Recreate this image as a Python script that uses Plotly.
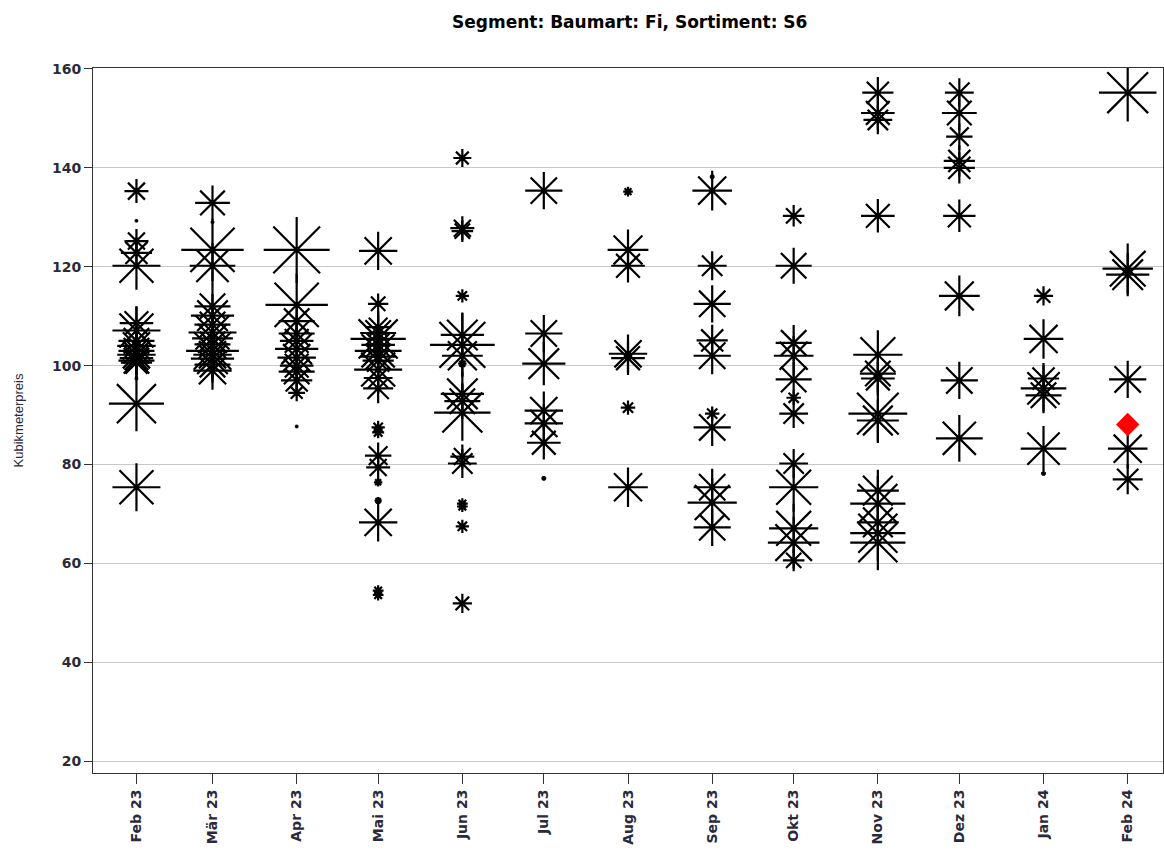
import plotly.graph_objects as go

months = ["2023-02-01", "2023-03-01", "2023-04-01", "2023-05-01", "2023-06-01",
          "2023-07-01", "2023-08-01", "2023-09-01", "2023-10-01", "2023-11-01",
          "2023-12-01", "2024-01-01", "2024-02-01"]
tick_labels = ["Feb 23", "Mär 23", "Apr 23", "Mai 23", "Jun 23", "Jul 23", "Aug 23",
               "Sep 23", "Okt 23", "Nov 23", "Dez 23", "Jan 24", "Feb 24"]

prices = [
    [135.3, 129.3, 125.2, 122.8, 120.2, 108.6, 107.1, 105.0, 104.0, 103.0, 102.2, 101.5, 101.0, 100.6, 97.4, 92.3, 75.4],
    [132.9, 129.0, 123.4, 120.2, 112.0, 110.1, 108.3, 106.7, 105.5, 104.3, 103.0, 102.2, 101.4, 100.2, 99.0],
    [123.4, 112.3, 109.0, 106.5, 105.0, 103.4, 101.6, 100.0, 98.8, 97.0, 94.5, 87.7],
    [123.2, 112.5, 107.8, 106.6, 105.4, 104.2, 103.0, 101.8, 101.0, 99.2, 97.5, 95.4, 87.5, 86.5, 81.8, 79.4, 76.4, 72.7, 68.3, 54.5, 53.6],
    [142.0, 127.8, 127.2, 114.1, 106.2, 104.2, 102.0, 100.4, 94.3, 92.8, 90.5, 81.6, 80.2, 72.1, 71.5, 67.5, 51.9],
    [135.4, 106.5, 100.4, 90.9, 88.3, 84.4, 77.2],
    [135.2, 123.4, 120.2, 102.4, 101.5, 91.5, 75.4],
    [138.2, 135.4, 120.2, 112.5, 105.1, 102.0, 90.3, 87.5, 75.4, 72.3, 67.3],
    [130.3, 120.2, 104.6, 102.0, 97.2, 93.5, 90.3, 80.2, 75.4, 67.1, 64.2, 60.6],
    [155.2, 151.1, 149.7, 130.3, 102.2, 98.4, 97.4, 90.3, 88.9, 74.7, 72.1, 68.3, 66.1, 64.2],
    [155.2, 151.1, 146.3, 141.4, 140.0, 130.3, 114.1, 97.0, 85.3],
    [114.1, 105.4, 97.4, 95.4, 94.0, 83.2, 78.2],
    [155.2, 119.6, 118.4, 97.2, 83.2, 77.0],
]
weights = [
    [20, 3, 20, 26, 40, 28, 40, 30, 32, 30, 32, 28, 30, 26, 3, 46, 40],
    [29, 3, 52, 38, 30, 36, 30, 40, 34, 30, 44, 32, 36, 30, 32],
    [55, 52, 30, 30, 28, 36, 32, 28, 30, 26, 14, 3],
    [32, 17, 22, 30, 46, 28, 39, 30, 26, 40, 24, 25, 11, 10, 22, 20, 7, 6, 32, 9, 9],
    [15, 20, 18, 11, 36, 54, 34, 7, 36, 30, 47, 20, 24, 9, 9, 11, 16],
    [31, 31, 36, 32, 32, 28, 4],
    [8, 34, 28, 32, 28, 12, 33],
    [4, 33, 24, 31, 26, 31, 12, 31, 31, 41, 31],
    [18, 30, 30, 33, 30, 12, 24, 24, 41, 41, 43, 18],
    [26, 28, 24, 28, 41, 30, 28, 49, 35, 35, 46, 35, 46, 46],
    [24, 29, 22, 26, 26, 27, 34, 31, 39],
    [16, 33, 26, 38, 30, 38, 4],
    [48, 42, 36, 31, 33, 25],
]

current_month = ["2024-02-01"]
current_price = [88.1]

fig = go.Figure()

for m, vals, sz in zip(months, prices, weights):
    fig.add_trace(go.Scatter(
        x=[m] * len(vals), y=vals, mode="markers",
        marker=dict(symbol="asterisk-open", size=sz, color="black", opacity=1,
                    line=dict(color="black", width=2.2)),
        showlegend=False, hoverinfo="x+y"))

fig.add_trace(go.Scatter(
    x=current_month, y=current_price, mode="markers",
    marker=dict(symbol="diamond", size=18, color="#ff0000", opacity=1,
                line=dict(width=0)),
    showlegend=False))

axis_font = dict(family="DejaVu Sans, sans-serif", size=14, color="#2a2a3a", weight="bold")

fig.update_layout(
    width=1164, height=852,
    plot_bgcolor="white", paper_bgcolor="white",
    margin=dict(l=93, r=1, t=68, b=79, autoexpand=False),
    title=dict(text="<b>Segment: Baumart: Fi, Sortiment: S6</b>",
               x=0.541, xanchor="center", y=0.974, yanchor="middle",
               font=dict(family="DejaVu Sans, sans-serif", size=17, color="black")),
    xaxis=dict(type="date", range=["2023-01-16", "2024-02-14"], automargin=False,
               tickmode="array", tickvals=months, ticktext=tick_labels,
               tickangle=-90, ticks="outside", ticklen=10, tickcolor="#333",
               showgrid=False, zeroline=False,
               showline=True, linecolor="#333", linewidth=1, mirror=True,
               tickfont=axis_font),
    yaxis=dict(range=[17.6, 160.2], tickmode="array", automargin=False,
               tickvals=[20, 40, 60, 80, 100, 120, 140, 160],
               ticks="outside", ticklen=8, tickcolor="#333",
               showgrid=True, gridcolor="#c8c8c8", gridwidth=1, zeroline=False,
               showline=True, linecolor="#333", linewidth=1, mirror=True,
               tickfont=axis_font,
               title=dict(text="Kubikmeterpreis", standoff=25,
                          font=dict(family="Liberation Sans, Arial, sans-serif", size=13, color="#2a2a3a"))),
)

fig.write_html("out.html", config={"displayModeBar": False},
               post_script="document.body.style.margin='0';document.body.style.overflow='hidden';")
